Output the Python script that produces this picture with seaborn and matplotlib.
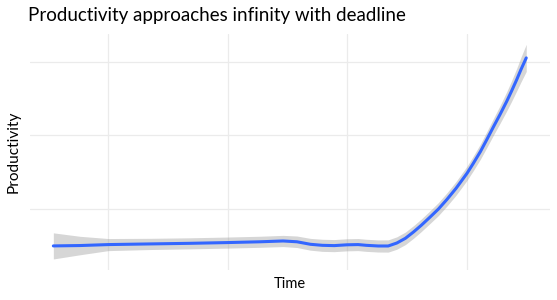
import matplotlib
matplotlib.use("Agg")
import matplotlib.pyplot as plt
import seaborn as sns
import numpy as np
import pandas as pd

# ---- data (smoothed trend + ribbon half-width) ----
time = [1, 6.6, 12.5, 21.3, 29.6, 37.3, 44.3, 49.1, 52.0, 54.8, 57.3, 59.8,
        62.5, 64.8, 66.5, 69.0, 71.1, 72.9, 74.7, 76.4, 78.0, 79.9, 81.6,
        83.4, 85.3, 87.6, 88.9, 90.4, 91.8, 93.1, 94.5, 95.9, 96.9, 98.0,
        98.9, 100]
productivity = [50.2, 50.7, 52.0, 52.9, 53.7, 54.7, 55.8, 56.9, 55.8, 52.4,
                51.0, 50.6, 51.7, 52.0, 51.0, 50.1, 50.1, 54.1, 60.5, 69.1,
                78.0, 89.5, 100.1, 113.2, 128.2, 148.6, 161.9, 178.0, 195.0,
                211.2, 228.2, 246.0, 259.7, 275.5, 289.3, 305.0]
halfwidth = [17.7, 12.5, 8.2, 7.6, 7.5, 7.5, 7.5, 7.6, 7.8, 8.0, 8.2, 8.2,
             8.2, 8.2, 8.2, 8.2, 8.3, 8.4, 8.5, 8.5, 8.5, 8.6, 8.8, 9.0,
             9.3, 9.6, 9.9, 10.3, 10.8, 11.3, 12.0, 13.0, 14.0, 15.3,
             16.8, 18.4]
x_grid = [12.5, 37.5, 62.5, 87.5]
y_grid = [100, 200, 300]

title_text = "Productivity approaches infinity with deadline"
xlabel_text = "Time"
ylabel_text = "Productivity"

df = pd.DataFrame({"Time": time, "Productivity": productivity,
                   "hw": halfwidth})
df["lo"] = df["Productivity"] - df["hw"]
df["hi"] = df["Productivity"] + df["hw"]

sns.set_style("white")
plt.rcParams["font.family"] = ["Lato", "DejaVu Sans"]

W, H = 557, 300
fig = plt.figure(figsize=(W / 100, H / 100), dpi=100)
ax = fig.add_axes([29.7 / W, 1 - 269.7 / H, (549.9 - 29.7) / W,
                   (269.7 - 33.6) / H])

ax.fill_between(df["Time"], df["lo"], df["hi"], color="#999999",
                alpha=0.4, linewidth=0, zorder=2)
sns.lineplot(data=df, x="Time", y="Productivity", ax=ax, color="#3366FF",
             linewidth=2.2, zorder=3, sort=False)

# ggplot-like 5% expansion
xmin, xmax = min(time), max(time)
dx = (xmax - xmin) * 0.05
ax.set_xlim(xmin - dx, xmax + dx)
ymin, ymax = df["lo"].min(), df["hi"].max()
dy = (ymax - ymin) * 0.05
ax.set_ylim(ymin - dy, ymax + dy)

ax.set_xticks(x_grid)
ax.set_yticks(y_grid)
ax.set_xticklabels([])
ax.set_yticklabels([])
ax.tick_params(length=0)
ax.grid(True, color="#EBEBEB", linewidth=0.9, zorder=0)
ax.set_axisbelow(True)
for s in ax.spines.values():
    s.set_visible(False)
ax.set_xlabel("")
ax.set_ylabel("")

# text
t_title = fig.text(28 / W, 1 - 15.5 / H, title_text, ha="left", va="center",
                   fontsize=13, color="black")
t_x = fig.text(289.7 / W, 1 - 284 / H, xlabel_text, ha="center",
               va="center", fontsize=10, color="black")
t_y = fig.text(13.5 / W, 1 - 151.5 / H, ylabel_text, ha="center",
               va="center", rotation=90, fontsize=10, color="black")

fig.canvas.draw()
r = fig.canvas.get_renderer()
for t, target, horiz in [(t_title, 377, True), (t_x, 32, True),
                         (t_y, 83, False)]:
    bb = t.get_window_extent(r)
    cur = bb.width if horiz else bb.height
    t.set_fontsize(t.get_fontsize() * target / cur)

fig.savefig("out.png", dpi=100)
